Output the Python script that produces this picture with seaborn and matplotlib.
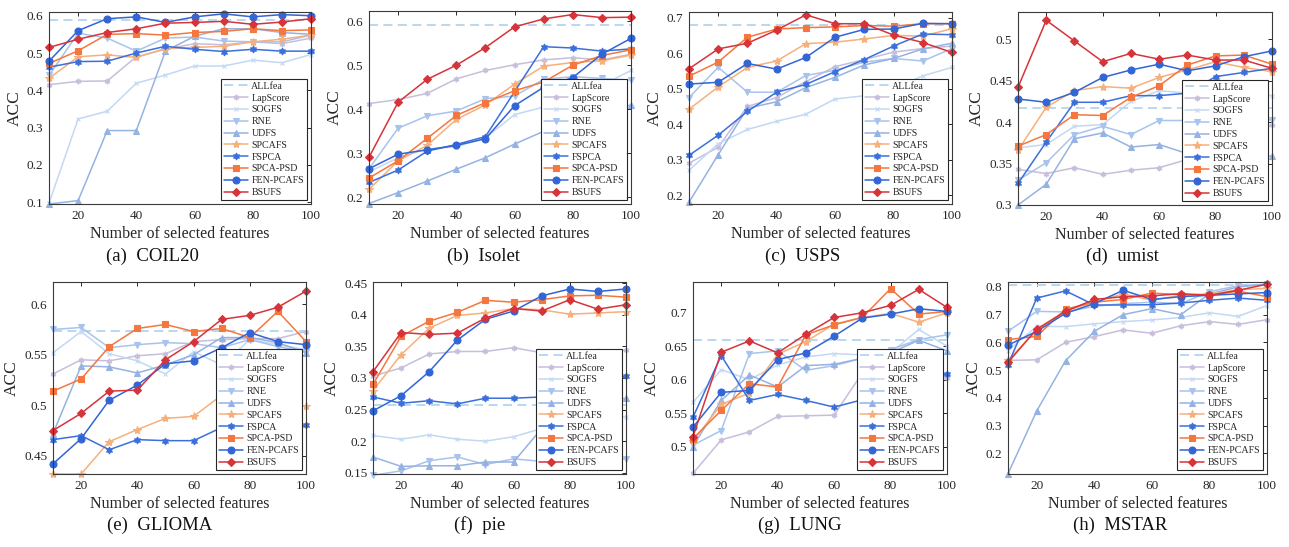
import numpy as np
import pandas as pd
import matplotlib
matplotlib.use("Agg")
import matplotlib.pyplot as plt
from matplotlib.ticker import FormatStrFormatter, MultipleLocator
import seaborn as sns

# ---------------- data ----------------
X = [10, 20, 30, 40, 50, 60, 70, 80, 90, 100]
METHODS = ["LapScore", "SOGFS", "RNE", "UDFS", "SPCAFS", "FSPCA", "SPCA-PSD", "FEN-PCAFS", "BSUFS"]
DATASETS = ["COIL20", "Isolet", "USPS", "umist", "GLIOMA", "pie", "LUNG", "MSTAR"]
CAPTIONS = ["(a)  COIL20", "(b)  Isolet", "(c)  USPS", "(d)  umist",
            "(e)  GLIOMA", "(f)  pie", "(g)  LUNG", "(h)  MSTAR"]

ALLFEA = [0.588, 0.592, 0.679, 0.4167, 0.574, 0.258, 0.660, 0.808]

COIL20 = {
    "LapScore":  [0.415, 0.424, 0.425, 0.490, 0.510, 0.525, 0.522, 0.530, 0.525, 0.540],
    "SOGFS":     [0.097, 0.323, 0.344, 0.419, 0.441, 0.465, 0.465, 0.481, 0.474, 0.496],
    "RNE":       [0.440, 0.553, 0.540, 0.505, 0.540, 0.543, 0.532, 0.530, 0.530, 0.548],
    "UDFS":      [0.095, 0.104, 0.292, 0.292, 0.505, 0.545, 0.565, 0.565, 0.555, 0.550],
    "SPCAFS":    [0.432, 0.490, 0.495, 0.488, 0.512, 0.515, 0.518, 0.530, 0.537, 0.548],
    "FSPCA":     [0.462, 0.477, 0.478, 0.500, 0.518, 0.510, 0.504, 0.510, 0.505, 0.505],
    "SPCA-PSD":  [0.472, 0.506, 0.550, 0.552, 0.548, 0.555, 0.558, 0.565, 0.560, 0.562],
    "FEN-PCAFS": [0.478, 0.560, 0.592, 0.597, 0.582, 0.597, 0.605, 0.597, 0.603, 0.600],
    "BSUFS":     [0.515, 0.537, 0.555, 0.565, 0.580, 0.582, 0.585, 0.577, 0.583, 0.592],
}
Isolet = {
    "LapScore":  [0.413, 0.422, 0.436, 0.469, 0.488, 0.501, 0.512, 0.517, 0.512, 0.525],
    "SOGFS":     [0.258, 0.290, 0.310, 0.315, 0.335, 0.388, 0.405, 0.420, 0.455, 0.488],
    "RNE":       [0.265, 0.357, 0.385, 0.396, 0.424, 0.430, 0.468, 0.474, 0.470, 0.466],
    "UDFS":      [0.186, 0.211, 0.237, 0.264, 0.290, 0.321, 0.350, 0.370, 0.390, 0.410],
    "SPCAFS":    [0.218, 0.283, 0.318, 0.377, 0.410, 0.457, 0.498, 0.506, 0.510, 0.523],
    "FSPCA":     [0.234, 0.262, 0.305, 0.320, 0.338, 0.440, 0.542, 0.539, 0.532, 0.537],
    "SPCA-PSD":  [0.244, 0.283, 0.334, 0.386, 0.415, 0.442, 0.462, 0.500, 0.522, 0.535],
    "FEN-PCAFS": [0.265, 0.298, 0.308, 0.318, 0.333, 0.408, 0.450, 0.472, 0.525, 0.561],
    "BSUFS":     [0.291, 0.416, 0.468, 0.500, 0.540, 0.587, 0.605, 0.615, 0.608, 0.609],
}
USPS = {
    "LapScore":  [0.290, 0.335, 0.450, 0.475, 0.520, 0.562, 0.582, 0.603, 0.613, 0.620],
    "SOGFS":     [0.270, 0.345, 0.385, 0.408, 0.428, 0.471, 0.480, 0.500, 0.536, 0.560],
    "RNE":       [0.475, 0.560, 0.490, 0.490, 0.537, 0.552, 0.575, 0.585, 0.578, 0.613],
    "UDFS":      [0.180, 0.314, 0.445, 0.463, 0.503, 0.532, 0.567, 0.585, 0.612, 0.628],
    "SPCAFS":    [0.442, 0.505, 0.560, 0.578, 0.627, 0.631, 0.640, 0.650, 0.648, 0.669],
    "FSPCA":     [0.312, 0.369, 0.436, 0.490, 0.512, 0.548, 0.582, 0.620, 0.654, 0.652],
    "SPCA-PSD":  [0.535, 0.575, 0.645, 0.668, 0.672, 0.674, 0.678, 0.676, 0.683, 0.683],
    "FEN-PCAFS": [0.513, 0.518, 0.571, 0.555, 0.588, 0.645, 0.667, 0.668, 0.684, 0.683],
    "BSUFS":     [0.556, 0.612, 0.628, 0.665, 0.708, 0.683, 0.683, 0.651, 0.630, 0.602],
}
umist = {
    "LapScore":  [0.343, 0.338, 0.345, 0.337, 0.342, 0.345, 0.355, 0.365, 0.380, 0.397],
    "SOGFS":     [0.369, 0.373, 0.395, 0.397, 0.425, 0.438, 0.435, 0.433, 0.432, 0.432],
    "RNE":       [0.330, 0.351, 0.385, 0.395, 0.385, 0.402, 0.402, 0.402, 0.402, 0.403],
    "UDFS":      [0.300, 0.325, 0.380, 0.387, 0.370, 0.373, 0.362, 0.362, 0.360, 0.359],
    "SPCAFS":    [0.366, 0.418, 0.438, 0.443, 0.441, 0.454, 0.463, 0.473, 0.466, 0.461],
    "FSPCA":     [0.326, 0.376, 0.424, 0.424, 0.432, 0.432, 0.435, 0.455, 0.460, 0.465],
    "SPCA-PSD":  [0.371, 0.385, 0.409, 0.408, 0.430, 0.444, 0.469, 0.480, 0.481, 0.470],
    "FEN-PCAFS": [0.428, 0.424, 0.436, 0.454, 0.463, 0.470, 0.462, 0.468, 0.479, 0.486],
    "BSUFS":     [0.442, 0.523, 0.498, 0.473, 0.483, 0.476, 0.481, 0.475, 0.475, 0.465],
}
GLIOMA = {
    "LapScore":  [0.531, 0.545, 0.544, 0.549, 0.551, 0.563, 0.565, 0.566, 0.566, 0.573],
    "SOGFS":     [0.552, 0.573, 0.551, 0.544, 0.531, 0.553, 0.540, 0.565, 0.560, 0.555],
    "RNE":       [0.575, 0.577, 0.557, 0.560, 0.562, 0.561, 0.557, 0.565, 0.558, 0.553],
    "UDFS":      [0.472, 0.539, 0.538, 0.532, 0.540, 0.550, 0.567, 0.567, 0.562, 0.552],
    "SPCAFS":    [0.432, 0.432, 0.464, 0.476, 0.487, 0.489, 0.510, 0.520, 0.505, 0.499],
    "FSPCA":     [0.466, 0.470, 0.456, 0.466, 0.465, 0.465, 0.478, 0.479, 0.480, 0.480],
    "SPCA-PSD":  [0.514, 0.526, 0.558, 0.576, 0.580, 0.573, 0.576, 0.567, 0.593, 0.563],
    "FEN-PCAFS": [0.442, 0.467, 0.505, 0.520, 0.541, 0.544, 0.557, 0.572, 0.563, 0.560],
    "BSUFS":     [0.475, 0.492, 0.514, 0.515, 0.545, 0.563, 0.585, 0.589, 0.597, 0.613],
}
pie = {
    "LapScore":  [0.303, 0.316, 0.338, 0.342, 0.342, 0.348, 0.340, 0.340, 0.342, 0.344],
    "SOGFS":     [0.209, 0.203, 0.210, 0.203, 0.200, 0.207, 0.220, 0.225, 0.232, 0.239],
    "RNE":       [0.146, 0.153, 0.169, 0.175, 0.163, 0.172, 0.168, 0.170, 0.171, 0.172],
    "UDFS":      [0.175, 0.160, 0.161, 0.161, 0.167, 0.167, 0.220, 0.245, 0.260, 0.268],
    "SPCAFS":    [0.280, 0.337, 0.379, 0.399, 0.403, 0.410, 0.408, 0.401, 0.403, 0.405],
    "FSPCA":     [0.270, 0.260, 0.264, 0.259, 0.268, 0.268, 0.270, 0.280, 0.290, 0.303],
    "SPCA-PSD":  [0.290, 0.366, 0.390, 0.404, 0.423, 0.420, 0.424, 0.430, 0.431, 0.428],
    "FEN-PCAFS": [0.248, 0.272, 0.310, 0.360, 0.393, 0.406, 0.430, 0.441, 0.437, 0.441],
    "BSUFS":     [0.310, 0.372, 0.369, 0.371, 0.395, 0.410, 0.406, 0.424, 0.409, 0.416],
}
LUNG = {
    "LapScore":  [0.460, 0.510, 0.522, 0.545, 0.546, 0.547, 0.610, 0.625, 0.595, 0.603],
    "SOGFS":     [0.566, 0.615, 0.600, 0.622, 0.634, 0.639, 0.637, 0.640, 0.675, 0.650],
    "RNE":       [0.502, 0.524, 0.639, 0.643, 0.614, 0.621, 0.632, 0.645, 0.660, 0.667],
    "UDFS":      [0.500, 0.569, 0.607, 0.589, 0.621, 0.623, 0.632, 0.640, 0.659, 0.643],
    "SPCAFS":    [0.508, 0.563, 0.580, 0.638, 0.657, 0.683, 0.693, 0.699, 0.686, 0.700],
    "FSPCA":     [0.544, 0.636, 0.569, 0.578, 0.569, 0.559, 0.570, 0.580, 0.595, 0.609],
    "SPCA-PSD":  [0.512, 0.554, 0.594, 0.589, 0.667, 0.682, 0.693, 0.736, 0.698, 0.702],
    "FEN-PCAFS": [0.529, 0.581, 0.584, 0.630, 0.640, 0.665, 0.692, 0.698, 0.706, 0.702],
    "BSUFS":     [0.515, 0.641, 0.658, 0.640, 0.668, 0.693, 0.700, 0.711, 0.735, 0.708],
}
MSTAR = {
    "LapScore":  [0.535, 0.537, 0.600, 0.621, 0.645, 0.633, 0.660, 0.675, 0.665, 0.682],
    "SOGFS":     [0.570, 0.658, 0.657, 0.667, 0.675, 0.681, 0.690, 0.707, 0.694, 0.733],
    "RNE":       [0.640, 0.712, 0.710, 0.730, 0.740, 0.745, 0.740, 0.783, 0.805, 0.810],
    "UDFS":      [0.126, 0.353, 0.534, 0.640, 0.700, 0.722, 0.700, 0.775, 0.800, 0.810],
    "SPCAFS":    [0.535, 0.645, 0.715, 0.745, 0.775, 0.752, 0.770, 0.775, 0.790, 0.795],
    "FSPCA":     [0.520, 0.760, 0.786, 0.735, 0.735, 0.736, 0.742, 0.752, 0.760, 0.752],
    "SPCA-PSD":  [0.610, 0.622, 0.720, 0.745, 0.755, 0.778, 0.772, 0.770, 0.785, 0.765],
    "FEN-PCAFS": [0.590, 0.640, 0.705, 0.740, 0.788, 0.755, 0.765, 0.770, 0.775, 0.780],
    "BSUFS":     [0.528, 0.648, 0.712, 0.755, 0.765, 0.768, 0.776, 0.770, 0.788, 0.810],
}
ALL_DATA = [COIL20, Isolet, USPS, umist, GLIOMA, pie, LUNG, MSTAR]

# ---------------- styles ----------------
COLORS = {
    "ALLfea": "#b3d6f0",
    "LapScore": "#c6bedb",
    "SOGFS": "#c2d8f3",
    "RNE": "#a8c3ec",
    "UDFS": "#95b3e2",
    "SPCAFS": "#f6b07c",
    "FSPCA": "#3b6fdc",
    "SPCA-PSD": "#f4773f",
    "FEN-PCAFS": "#3265d5",
    "BSUFS": "#d7333a",
}
MARKERS = {
    "LapScore": ((6, 1, 0), 4),
    "SOGFS": ("x", 3.5),
    "RNE": ("v", 4.5),
    "UDFS": ("^", 4.5),
    "SPCAFS": ("*", 6),
    "FSPCA": ((6, 1, 0), 5),
    "SPCA-PSD": ("s", 4),
    "FEN-PCAFS": ("o", 5),
    "BSUFS": ("D", 4),
}
YLIMS = [(0.095, 0.61), (0.185, 0.623), (0.175, 0.716), (0.3, 0.533),
         (0.432, 0.622), (0.148, 0.452), (0.459, 0.746), (0.125, 0.818)]
YSTEPS = [0.1, 0.1, 0.1, 0.05, 0.05, 0.05, 0.05, 0.1]

# axes boxes in pixels: left, top, right, bottom
W, H = 1289, 547
BOXES = [(49, 12, 311, 204), (369, 11, 631, 204), (689, 12, 952, 204), (1018, 12, 1272, 205),
         (53, 282, 306, 474), (373, 282, 626, 474), (693, 282, 947, 474), (1008, 282, 1267, 474)]
CAP_X = [152, 483, 803, 1122, 160, 480, 800, 1120]
CAP_Y = [256, 256, 256, 256, 525, 525, 525, 525]

sns.set_style("white")
plt.rcParams["font.family"] = ["Liberation Serif", "DejaVu Serif"]
plt.rcParams["mathtext.fontset"] = "stix"

fig = plt.figure(figsize=(W / 100, H / 100), dpi=100)
fig.patch.set_facecolor("white")

for i, (name, data) in enumerate(zip(DATASETS, ALL_DATA)):
    l, t, r, b = BOXES[i]
    ax = fig.add_axes([l / W, 1 - b / H, (r - l) / W, (b - t) / H])
    ax.axhline(ALLFEA[i], color=COLORS["ALLfea"], ls=(0, (5, 3)), lw=1.3, label="ALLfea")
    for m in METHODS:
        mk, ms = MARKERS[m]
        sns.lineplot(x=X, y=data[m], ax=ax, color=COLORS[m], marker=mk, markersize=ms,
                     markeredgecolor=COLORS[m], markerfacecolor=COLORS[m],
                     markeredgewidth=0.8, lw=1.1, label=m, clip_on=False)
    ax.set_xlim(10, 100)
    ax.set_ylim(*YLIMS[i])
    ax.xaxis.set_major_locator(MultipleLocator(20))
    ax.yaxis.set_major_locator(MultipleLocator(YSTEPS[i]))
    ax.yaxis.set_major_formatter(FormatStrFormatter("%g"))
    ax.tick_params(direction="in", top=True, right=True, length=3, width=0.7,
                   labelsize=9.5, colors="#262626", pad=4)
    for s in ax.spines.values():
        s.set_color("#3a3a3a")
        s.set_linewidth(0.8)
    ax.set_xlabel("Number of selected features", fontsize=11.5, color="#262626", labelpad=3)
    ax.set_ylabel("ACC", fontsize=12.5, color="#262626", labelpad=3)
    leg = ax.legend(loc="lower right", fontsize=7.2, frameon=True, fancybox=False,
                    edgecolor="#262626", framealpha=1, borderaxespad=0.4,
                    labelspacing=0.28, handlelength=2.4, handletextpad=0.3,
                    borderpad=0.3, numpoints=1)
    leg.get_frame().set_linewidth(0.8)
    fig.text(CAP_X[i] / W, 1 - CAP_Y[i] / H, CAPTIONS[i], ha="center", va="center",
             fontsize=13.5, color="#111111")

fig.savefig("out.png", dpi=100, facecolor="white")
